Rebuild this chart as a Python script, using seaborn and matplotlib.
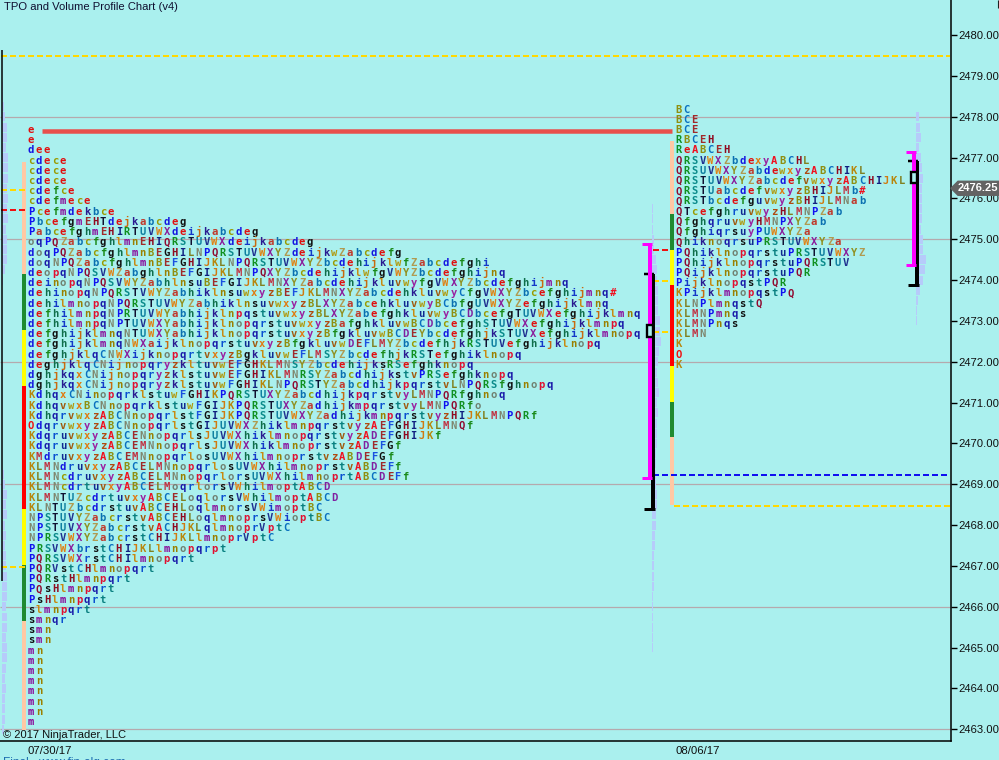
import numpy as np
import matplotlib
matplotlib.use('Agg')
import matplotlib.pyplot as plt
from matplotlib.patches import Polygon, Rectangle
from matplotlib.lines import Line2D
import seaborn as sns

# TPO rows, top to bottom, one price step apart
session1_top = 2477.75
session1_rows = [
    "e", "e", "dee", "cdece", "cdece", "cdece", "cdefce", "cdefmece", "Pcefmdekbce",
    "PbcefgmEHTdejkabcdeg",
    "PabcefghmEHIRTUVWXdeijkabcdeg",
    "oqPQZabcfghlmnEHIQRSTUVWXdeijkabcdeg",
    "doqPQZabcfghlmnBEGHILNPQRSTUVWXYZdeijkwZabcdefg",
    "doqNPQZabcfghlmnBEFGHIJKLNPQRSTUVWXYZbcdehijklwfZabcdefghi",
    "deopqNPQSVWZabghlnBEFGIJKLMNPQXYZbcdehijklwfgVWYZbcdefghijnq",
    "deinopqNPQSVWYZabhlnsuBEFGIJKLMNXYZabcdehijkluvwyfgVWXYZbcdefghijmnq",
    "dehinopqNPQRSTVWYZabhiklnsuwxyzBEFJKLMNXYZabcdehkluvwyCfgVWXYZbcefghijmnq#",
    "dehilmnopqNPQRSTUVWYZabhiklnsuvwxyzBLXYZabcehkluvwyBCbfgUVWXYZefghijklmnq",
    "defhilmnpqNPRTUVWYabhijklnpqstuvwxyzBLXYZabefghkluvwyBCDbcefgTUVWXefghijklmnq",
    "defhilmnpqNPTUVWXYabhijklnopqrstuvwxyzBafghkluvwBCDbcefghSTUVWXefghijklmnpq",
    "defghijklmnqNTUWXYabhijklnopqrstuvxyzBfgkluvwBCDEYbcdefghjkSTUVXefghijklmnopq",
    "defghijklmnqNWXaijklnopqrstuvxyzBfgkluvwDEFLMYZbcdefhjkRSTUVefghijklnopq",
    "defghjklqCNWXijknopqrtvxyzBgkluvwEFLMSYZbcdefhjkRSTefghiklnopq",
    "deghjklqCNijnopqryzkltuvwEFGHKLMNSYZbcdehijksRSefghknopq",
    "dghjkqxCNijnopqryzklstuvwEFGHIKLMNRSYZabcdhijkstvPRSefghknopq",
    "dghjkqxCNijnopqryzklstuvwFGHIKLNPQRSTYZabcdhijkpqrstvLNPQRSfghnopq",
    "KdhqxCNinopqrklstuwFGHIKPQRSTUXYZabcdhijkpqrstvyLMNPQRfghnoq",
    "KdhqvwxBCNnopqrklstuwFGIJKPQRSTUXYZadhijkmpqrstvyLMNPQRfo",
    "KdhqrvwxzABCNnopqrlstFGIJKPQRSTUVWXYZadhijkmnpqrstvyzHIJKLMNPQRf",
    "OdqrvwxyzABCNnopqrlstGIJUVWXZhiklmnpqrstvyzAEFGHIJKLMNQf",
    "KdqruvwxyzABCENnopqrlsJUVWXhiklmnopqrstvyzADEFGHIJKf",
    "KdqruvwxyzABCEMNnopqrlsJUVWXhiklmnoprstvzADEFGf",
    "KMdruvxyzABCEMNnopqrlosUVWXhilmnoprstvzABDEFGf",
    "KLMNdruvxyzABCELMNnopqrlosUVWXhilmnoprstvABDEFf",
    "KLMNcdruvxyzABCELMNnopqrlorsUVWXhilmnoprtABCDEFf",
    "KLMNcdrtuvxyABCELMoqrlorsVWhilmoptABCD",
    "KLMNTUZcdrtuvxyABCELoqlorsVWhilmoptABCD",
    "KLNTUZbcdrstuvABCEHLoqlmnorsVWimoptBC",
    "NPSTUVYZabcrstvABCEHLoqlmnoprsVWioptBC",
    "NPSTUVXYZabcrstvACHJKLqlmnoprVptC",
    "NPRSVWXYZabcrstCHIJKLlmnoprVptC",
    "PRSVWXbrstCHIJKLlmnopqrpt",
    "PQRSVWXrstCHIlmnopqrt",
    "PQRVstCHlmnopqrt",
    "PQRstHlmnpqrt",
    "PQsHlmnpqrt",
    "PsHlmnpqrt",
    "slmnpqrt",
    "smnqr", "smn", "smn",
    "mn", "mn", "mn", "mn", "mn", "mn", "mn", "m",
]
session2_top = 2478.25
session2_rows = [
    "BC", "BCE", "BCE", "RBCEH", "ReABCEH",
    "QRSVWXZbdexyABCHL",
    "QRSUVWXYZabdewxyzABCHIKL",
    "QRSTUVWXYZabcdefvwxyzABCHIJKL",
    "QRSTUabcdefvwxyzBHIJLMb#",
    "QRSTbcdefguvwyzBHIJLMNab",
    "QTcefghruvwyzHLMNPZab",
    "QfghqruvwyHMNPXYZab",
    "QfghiqrsuyPUWXYZa",
    "QhiknoqrsuPRSTUVWXYZa",
    "PQhiklnopqrstuPRSTUVWXYZ",
    "PQhijklnopqrstuPQRSTUV",
    "PQijklnopqrstuPQR",
    "PijklnopqstPQR",
    "KPijklmnopqstPQ",
    "KLNPlmnqstQ",
    "KLMNPmnqs",
    "KLMNPnqs",
    "KLMN", "K", "O", "K",
]

# letter colours of the periods
letter_colors = {
    'a': '#c0392b', 'b': '#0a6fb0', 'c': '#9a9a00', 'd': '#1414e0', 'e': '#e01010', 'f': '#1a8a1a',
    'g': '#101010', 'h': '#0f6e4a', 'i': '#1438c8', 'j': '#c86a10', 'k': '#2a1a90', 'l': '#c88a10',
    'm': '#8a0a9a', 'n': '#9a8000', 'o': '#708070', 'p': '#e01030', 'q': '#1818a8', 'r': '#0a50d0',
    's': '#101010', 't': '#0a8080', 'u': '#102890', 'v': '#a05a10', 'w': '#b09a10', 'x': '#e07a10',
    'y': '#9a20a0', 'z': '#b04a10',
    'A': '#f01020', 'B': '#8f8f10', 'C': '#0a70c0', 'D': '#8020a0', 'E': '#a02a2a', 'F': '#1a50e0',
    'G': '#101010', 'H': '#900a20', 'I': '#102080', 'J': '#d07a10', 'K': '#b8860b', 'L': '#808020',
    'M': '#c03040', 'N': '#808870', 'O': '#f01010', 'P': '#1010f0', 'Q': '#900a30', 'R': '#109020',
    'S': '#0a8a8a', 'T': '#101030', 'U': '#1080a0', 'V': '#203090', 'W': '#e08010', 'X': '#8a1a9a',
    'Y': '#909020', 'Z': '#b09a50', '#': '#f01020',
}

# market profile colour columns (price edges, top to bottom)
band_colors = ['#ffc8a4', '#1f8a30', '#ffff00', '#ff0000', '#ffff00', '#1f8a30', '#ffc8a4']
session1_bands = [2476.90, 2474.14, 2472.77, 2471.40, 2468.40, 2467.03, 2465.66, 2462.98]
session2_bands = [2477.41, 2475.63, 2474.75, 2473.89, 2471.89, 2471.01, 2470.16, 2468.50]

# volume profiles, widths per price step
vol0_top = 2478.75
vol0 = [1, 1, 2, 3, 5, 5, 4, 6, 6, 6, 5, 6, 5, 6, 4, 5, 5, 5, 3, 1,
        0, 0, 0, 0, 0, 0, 0, 0, 0, 0, 0, 0, 0, 0, 0, 0, 0, 0,
        2, 3, 5, 4, 5, 3, 4, 3, 4, 4, 5, 5, 5, 4, 5, 5, 4, 5, 5, 4, 3, 4, 3, 3, 3, 2]
vol1_top = 2475.75
vol1 = [1, 1, 1, 2, 2, 4, 5, 5, 6, 6, 6, 8, 8, 9, 7, 6, 5, 6, 7, 5, 6, 5, 5, 5, 4, 4, 4, 4, 5, 5,
        4, 4, 3, 3, 2, 2, 2, 2, 1, 1, 1, 1, 1, 1]
vol2_top = 2478.0
vol2 = [3, 4, 5, 3, 5, 6, 7, 6, 6, 6, 6, 5, 7, 7, 10, 9, 7, 4, 2, 1, 1]

# levels
value_high = [2474.88, 2477.14]
value_low = [2469.15, 2474.37]
range_high = [2474.15, 2476.92]
range_low = [2468.40, 2473.89]
box_high = [2472.90, 2476.65]
box_low = [2472.61, 2476.38]
prior_high = 2479.64
prior_low = 2466.63
price_ticks = list(range(2463, 2481))
grid_prices = [2463, 2466, 2469, 2472, 2475, 2478]
date_labels = ['07/30/17', '08/06/17']
last_price = 2476.25

sns.set_style('white', rc={'lines.solid_capstyle': 'butt', 'lines.dash_capstyle': 'butt'})
plt.rcParams['font.family'] = ['Liberation Sans', 'DejaVu Sans']

W, H = 999, 760
fig = plt.figure(figsize=(W / 100, H / 100), dpi=100, facecolor='#aaf0ee')
ax = fig.add_axes([0, 19 / H, 950.5 / W, 741 / H], facecolor='#aaf0ee')
ax.set_xlim(0, 950.5)
ax.set_ylim(2469 - (741 - 484.3) / 40.83, 2469 + 484.3 / 40.83)
px = 1 / 40.83  # one pixel in price units


def seg(x0, x1, y0, y1, color, width, z=3, **kw):
    sns.lineplot(x=[x0, x1], y=[y0, y1], sort=False, estimator=None, color=color,
                 linewidth=width * 0.72, zorder=z, legend=False, ax=ax, **kw)


def dashed(x0, x1, y, color, z=4):
    seg(x0, x1, y, y, color, 2, z, linestyle=(0, (3, 1.5)))


ax.hlines(grid_prices, 0, 950, color='#b5a9ad', lw=0.9, zorder=1)

for xs, top, vals in [(2, vol0_top, vol0), (652, vol1_top, vol1), (916, vol2_top, vol2)]:
    ys = top - 0.25 * np.arange(len(vals))
    ax.barh(ys, vals, left=xs, height=0.22, color='#b6cbfa', edgecolor='none', linewidth=0, zorder=2)

seg(1.5, 1.5, prior_high, prior_low, 'black', 1.5, 5)
for x, edges in [(24, session1_bands), (672, session2_bands)]:
    for c, a, b in zip(band_colors, edges[:-1], edges[1:]):
        seg(x, x, a, b, c, 4, 3)

# long lines
dashed(1, 950, 2479.49, '#ffd800')
seg(42, 672, 2477.65, 2477.65, '#e8504c', 4.5, 3)
dashed(653, 950, 2469.23, '#1010f0')
dashed(674, 950, 2468.47, '#ffd800')
dashed(1, 26, 2476.20, '#ffd800')
dashed(1, 26, 2475.71, '#f01010')
dashed(1, 26, 2466.98, '#ffd800')
dashed(653, 670, 2474.75, '#f01010')
dashed(653, 670, 2473.98, '#ffd800')
dashed(653, 670, 2472.74, '#ffd800')

# session brackets
for i, (xm, xb, tick) in enumerate([(650, 652.5, 642), (914, 916.5, 906)]):
    seg(xb, xb, range_high[i], range_low[i], 'black', 4, 5)
    seg(tick + 2, xb + 1, range_high[i], range_high[i], 'black', 2.5, 5)
    seg(tick + 2, xb + 2, range_low[i], range_low[i], 'black', 3, 5)
    seg(xm, xm, value_high[i], value_low[i], '#ff00ff', 4, 6)
    seg(tick, xm + 2, value_high[i], value_high[i], '#ff00ff', 3, 6)
    seg(tick, xm + 2, value_low[i], value_low[i], '#ff00ff', 3, 6)
    ax.add_patch(Rectangle((xm - 3, box_low[i]), 5.5, box_high[i] - box_low[i], fc='#aaf0ee',
                           ec='black', lw=1.7, zorder=7))

# letters
step = 7.97
for x0, top, rows in [(28, session1_top, session1_rows), (675.5, session2_top, session2_rows)]:
    for r, row in enumerate(rows):
        y = top - 0.25 * r - 6 * px
        for i, ch in enumerate(row):
            ax.text(x0 + i * step, y, ch, family='DejaVu Sans Mono', fontsize=7.6, fontweight='bold',
                    color=letter_colors[ch], ha='left', va='baseline', zorder=8)

# price axis
ax.yaxis.tick_right()
ax.set_yticks(price_ticks)
ax.set_yticklabels([f'{p:.2f}' for p in price_ticks], fontsize=8.1, color='#101010')
ax.tick_params(axis='y', length=4, width=1, color='black', pad=1.8, right=True)
ax.set_xticks([28, 676])
ax.set_xticklabels(date_labels, fontsize=8.2, color='#101010', ha='left')
ax.tick_params(axis='x', length=0, pad=3.5)
for s in ['left', 'top']:
    ax.spines[s].set_visible(False)
for s in ['right', 'bottom']:
    ax.spines[s].set_visible(True)
    ax.spines[s].set_color('black')
    ax.spines[s].set_linewidth(1.1)

# last price tag
dy = 7 * px
ax.add_patch(Polygon([(951, last_price), (958, last_price + dy), (1000, last_price + dy),
                      (1000, last_price - dy), (958, last_price - dy)], closed=True,
                     fc='#636363', ec='#636363', clip_on=False, zorder=9))
ax.text(958, last_price, f'{last_price:.2f}', color='white', fontsize=8, fontweight='bold',
        va='center', ha='left', zorder=10, clip_on=False)

fig.add_artist(Line2D([997.5 / W, 997.5 / W], [1, 1 - 8 / H], color='#202020', lw=0.8))
fig.text(4 / W, 1 - 6.5 / H, 'TPO and Volume Profile Chart (v4)', fontsize=8.1, color='#101030', va='center')
fig.text(3 / W, 1 - 735 / H, '\u00a9 2017 NinjaTrader, LLC', fontsize=8, color='#101010', va='center')
fig.text(3 / W, 1 - 766 / H, 'Final - www.fin-alg.com', fontsize=8.6, color='#1e6eb0', va='baseline')

fig.savefig('out.png', dpi=100, facecolor=fig.get_facecolor())
